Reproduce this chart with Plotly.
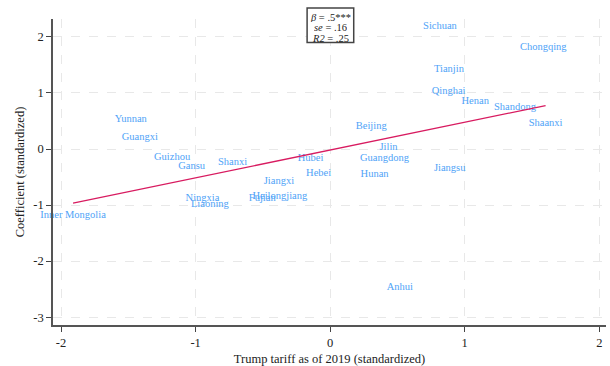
import numpy as np
import plotly.graph_objects as go

# Province-level estimates: standardized tariff exposure vs. standardized coefficient
provinces = [
    "Sichuan", "Chongqing", "Tianjin", "Qinghai", "Henan", "Shandong", "Shaanxi",
    "Beijing", "Jilin", "Guangdong", "Hunan", "Jiangsu", "Hubei", "Hebei", "Anhui",
    "Yunnan", "Guangxi", "Guizhou", "Gansu", "Shanxi", "Jiangxi", "Heilongjiang",
    "Fujian", "Ningxia", "Liaoning", "Inner Mongolia",
]
tariff = [
    0.816, 1.584, 0.883, 0.880, 1.078, 1.373, 1.601,
    0.305, 0.434, 0.404, 0.330, 0.888, -0.146, -0.086, 0.518,
    -1.482, -1.415, -1.175, -1.030, -0.726, -0.381, -0.374,
    -0.505, -0.949, -0.894, -1.911,
]
coef = [
    2.18, 1.81, 1.43, 1.02, 0.85, 0.74, 0.457,
    0.40, 0.03, -0.17, -0.45, -0.35, -0.16, -0.44, -2.47,
    0.536, 0.214, -0.143, -0.31, -0.245, -0.58, -0.85,
    -0.88, -0.88, -0.995, -1.186,
]

x_ticks = [-2, -1, 0, 1, 2]
y_ticks = [-3, -2, -1, 0, 1, 2]

# Regression summary shown in the box
stats_lines = ["<i>β</i> = .5***", "<i>se</i> = .16", "<i>R2</i> = .25"]

x = np.array(tariff)
y = np.array(coef)
slope, intercept = np.polyfit(x, y, 1)
x_fit = np.array([x.min(), x.max()])
y_fit = intercept + slope * x_fit

serif = "Liberation Serif"
label_blue = "#4fa3f7"
fit_red = "#d81b60"
ink = "#222222"

fig = go.Figure()

fig.add_trace(go.Scatter(
    x=tariff, y=coef, mode="text", text=provinces,
    textposition="middle center",
    textfont=dict(family=serif, size=10.5, color=label_blue),
    cliponaxis=False, hoverinfo="skip", showlegend=False,
))

fig.add_trace(go.Scatter(
    x=x_fit, y=y_fit, mode="lines",
    line=dict(color=fit_red, width=1.3),
    hoverinfo="skip", showlegend=False,
))


def tick_text(vals):
    return [str(v) for v in vals]  # plain hyphen for negatives


axis_common = dict(
    showgrid=True, gridcolor="#e8e8e8", griddash="dash", gridwidth=1,
    zeroline=False, showline=True, linecolor="#555555", linewidth=1.5,
    ticks="outside", ticklen=5, tickcolor="#444444", tickwidth=1,
    tickfont=dict(family=serif, size=12.5, color=ink),
    automargin=False,
)

fig.update_xaxes(
    range=[-2.06, 2.05], tickvals=x_ticks, ticktext=tick_text(x_ticks),
    title=dict(text="Trump tariff as of 2019 (standardized)",
               font=dict(family=serif, size=12.5, color=ink), standoff=6),
    **axis_common,
)
fig.update_yaxes(
    range=[-3.14, 2.32], tickvals=y_ticks, ticktext=tick_text(y_ticks),
    title=dict(text="Coefficient (standardized)",
               font=dict(family=serif, size=12.5, color=ink), standoff=6),
    **axis_common,
)

# Framed statistics box above the plot, centred on x = 0
fig.add_shape(
    type="rect", xref="paper", yref="paper",
    x0=0.4595, x1=0.5438, y0=0.9232, y1=1.0359,
    line=dict(color="#444444", width=1.5), fillcolor="white", layer="above",
)
for i, line_txt in enumerate(stats_lines):
    fig.add_annotation(
        x=0, xref="x", y=1.0, yref="paper", yanchor="middle",
        yshift=2.5 - 10.8 * i, showarrow=False, text=line_txt,
        font=dict(family=serif, size=10.5, color=ink),
        height=10, borderpad=0,
    )

fig.update_layout(
    width=610, height=366,
    margin=dict(l=53, r=4, t=19, b=41),
    paper_bgcolor="white", plot_bgcolor="white",
)

fig.write_html("out.html")
